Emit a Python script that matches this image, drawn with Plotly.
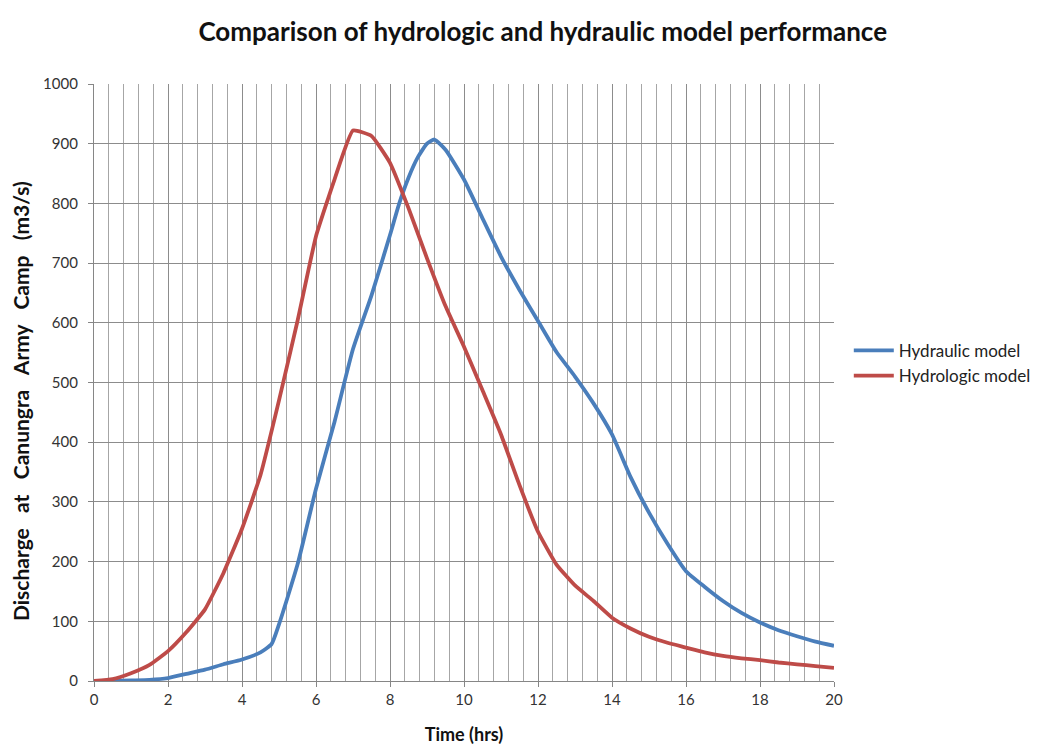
import plotly.graph_objects as go

# Time (hrs)
time_hydraulic = [0, 0.5, 1, 1.5, 2, 2.5, 3, 3.5, 4, 4.5, 4.8, 5, 5.5, 6, 6.5, 7, 7.5, 8, 8.25, 8.5,
                  8.75, 9, 9.2, 9.5, 10, 10.5, 11, 11.5, 12, 12.5, 13, 13.5, 14, 14.5, 15, 15.5,
                  16, 16.5, 17, 17.5, 18, 18.5, 19, 19.5, 20]
q_hydraulic = [0, 0, 1, 2, 5, 12, 19, 28, 36, 48, 62, 95, 195, 322, 434, 556, 646, 747, 800, 843,
               877, 900, 907, 890, 840, 775, 711, 655, 603, 551, 510, 465, 413, 342, 282, 230,
               184, 158, 134, 114, 98, 85, 75, 66, 59]

time_hydrologic = [0, 0.5, 1, 1.5, 2, 2.5, 3, 3.5, 4, 4.5, 5, 5.5, 6, 6.5, 7, 7.5, 8, 8.5, 9, 9.5,
                   10, 10.5, 11, 11.5, 12, 12.5, 13, 13.5, 14, 14.5, 15, 15.5, 16, 16.5, 17, 17.5,
                   18, 18.5, 19, 19.5, 20]
q_hydrologic = [0, 3, 13, 27, 50, 82, 120, 181, 255, 345, 470, 603, 745, 840, 922, 913, 868, 792,
                708, 628, 560, 487, 413, 328, 250, 195, 160, 134, 106, 88, 74, 64, 56, 48, 42, 38,
                35, 31, 28, 25, 22]

x_ticks = [0, 2, 4, 6, 8, 10, 12, 14, 16, 18, 20]
y_ticks = [0, 100, 200, 300, 400, 500, 600, 700, 800, 900, 1000]

FONT = "Lato, 'Open Sans', sans-serif"
GAP = "\u00a0" * 2 + " "
y_title = "Discharge" + GAP + "at" + GAP + "Canungra" + GAP + "Army" + GAP + "Camp" + GAP + "(m3/s)"

fig = go.Figure()
fig.add_trace(go.Scatter(x=time_hydraulic, y=q_hydraulic, mode="lines", name="Hydraulic model",
                         line=dict(color="#4A7EBB", width=3.8, shape="spline", smoothing=0.5)))
fig.add_trace(go.Scatter(x=time_hydrologic, y=q_hydrologic, mode="lines", name="Hydrologic model",
                         line=dict(color="#BE4B48", width=3.8, shape="spline", smoothing=0.4)))

fig.update_layout(
    width=1061, height=744,
    margin=dict(l=86, r=235, t=76, b=71, autoexpand=False),
    paper_bgcolor="white", plot_bgcolor="white",
    font=dict(family=FONT, color="#222222"),
    title=dict(text="<b>Comparison of hydrologic and hydraulic model performance</b>",
               x=0.504, xanchor="center", y=0.968, yanchor="middle",
               font=dict(size=26, color="#111111", family=FONT)),
    legend=dict(x=1.02, xanchor="left", y=0.532, yanchor="middle",
                font=dict(size=17, color="#222222", family=FONT),
                bgcolor="rgba(0,0,0,0)", tracegroupgap=0, itemwidth=40),
    showlegend=True,
    annotations=[dict(text="<b>" + y_title + "</b>", textangle=-90,
                      xref="paper", yref="paper", x=-0.1, y=0.469,
                      xanchor="center", yanchor="middle", showarrow=False,
                      font=dict(size=21, color="#111111", family=FONT))],
)
fig.update_xaxes(
    range=[0, 20], tickvals=x_ticks, ticktext=[str(v) for v in x_ticks],
    showgrid=True, gridcolor="#8c8c8c", gridwidth=1.2,
    minor=dict(dtick=0.4, tick0=0, showgrid=True, gridcolor="#a6a6a6", gridwidth=1),
    showline=True, linecolor="#868686", linewidth=1.2, mirror=False,
    ticks="outside", ticklen=5, tickcolor="#868686",
    tickfont=dict(size=15, color="#333333", family=FONT),
    title=dict(text="<b>Time (hrs)</b>", font=dict(size=18, color="#111111", family=FONT), standoff=21),
    zeroline=False, automargin=False,
)
fig.update_yaxes(
    range=[0, 1000], tickvals=y_ticks, ticktext=[str(v) for v in y_ticks],
    showgrid=True, gridcolor="#8c8c8c", gridwidth=1.2,
    showline=True, linecolor="#868686", linewidth=1.2,
    ticks="outside", ticklen=5, tickcolor="#868686", ticklabelstandoff=7,
    tickfont=dict(size=15, color="#333333", family=FONT),
    zeroline=False, automargin=False,
)

fig.write_html("out.html")
